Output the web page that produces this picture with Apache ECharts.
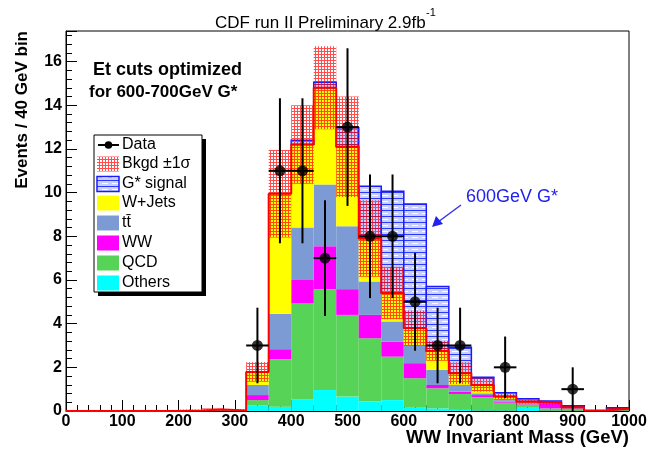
<!DOCTYPE html>
<html><head><meta charset="utf-8">
<script src="https://cdn.jsdelivr.net/npm/echarts@6/dist/echarts.min.js"></script>
<style>html,body{margin:0;padding:0;background:#fff}#c{width:652px;height:453px}</style>
</head><body><div id="c"></div>
<script>
// ---- data ----
const binWidth = 40;
const binStarts = [0,40,80,120,160,200,240,280,320,360,400,440,480,520,560,600,640,680,720,760,800,840,880,920,960];
const others = [0,0,0,0,0, 0,0,0, 0.25,0.2,0.53,0.96,0.66,0.43,0.5,0.15,0.12,0.05,0.03,0.03,0.15,0.02,0.01,0,0];
const qcd    = [0,0,0,0,0, 0.01,0.03,0.01, 0.25,2.17,4.41,4.62,3.74,2.9,1.99,1.35,0.92,0.73,0.6,0.35,0.15,0.1,0.06,0.02,0.04];
const ww     = [0,0,0,0,0, 0,0,0, 0.23,0.46,1.06,1.96,1.18,1.07,0.69,0.69,0.15,0.11,0.1,0.04,0.04,0.2,0.04,0,0.02];
const ttbar  = [0,0,0,0,0, 0,0.02,0, 0.46,1.62,2.4,2.83,2.88,1.53,0.92,0.84,0.69,0.3,0.08,0.08,0.04,0.03,0.03,0,0.02];
const wjets  = [0,0,0,0,0, 0.01,0.02,0.01, 0.6,5.5,3.8,4.43,3.64,1.97,1.3,0.77,0.87,0.54,0.38,0.16,0.06,0.03,0.03,0,0.02];
const bkgSigma = [0,0,0,0,0, 0.05,0.05,0.06, 0.45,2.0,1.8,1.9,2.3,1.75,1.2,0.8,0.45,0.5,0.3,0.15,0.1,0.08,0.05,0.03,0.04];
const signal = [0,0,0,0,0, 0,0,0, 0,0,0.2,0.25,0.87,2.39,4.66,5.68,2.95,1.19,0.36,0.18,0.12,0.08,0.07,0,0.05];
const dataX   = [340,380,420,460,500,540,580,620,660,700,780,900];
const dataY   = [3,11,11,7,13,8,8,5,3,3,2,1];
const dataErr = [1.73,3.32,3.32,2.65,3.61,2.83,2.83,2.24,1.73,1.73,1.41,1.0];
const legendNames = ['Data','Bkgd \u00b11\u03c3','G* signal','W+Jets','tt\u0304','WW','QCD','Others'];

// ---- patterns ----
function makeCanvas(w,h,draw){const c=document.createElement('canvas');c.width=w;c.height=h;draw(c.getContext('2d'));return c;}
const bandCanvas = makeCanvas(3,3,ctx=>{ctx.fillStyle='rgba(255,0,0,0.7)';ctx.fillRect(0,0,3,1);ctx.fillRect(0,1,1,2);});
const sigCanvas = makeCanvas(10,6,ctx=>{ctx.fillStyle='#c9d0ff';ctx.fillRect(0,0,10,6);ctx.fillStyle='#2a3aff';ctx.fillRect(0,0,10,1);ctx.fillStyle='#ffffff';ctx.fillRect(2,3,6,1);});
const bandPattern = {image: bandCanvas, repeat: 'repeat'};
const sigPattern = {image: sigCanvas, repeat: 'repeat'};

// ---- stacking ----
const comps = [
  {name:'Others', vals:others, color:'#00ffff'},
  {name:'QCD', vals:qcd, color:'#57d357'},
  {name:'WW', vals:ww, color:'#ff00ff'},
  {name:'ttbar', vals:ttbar, color:'#7c9bd5'},
  {name:'W+Jets', vals:wjets, color:'#ffff00'}
];
const cum = binStarts.map(()=>0);
const series = [];
function rectRender(styleFn){
  return function(params, api){
    const p0 = api.coord([api.value(0), api.value(3)]);
    const p1 = api.coord([api.value(1), api.value(2)]);
    return {type:'rect', shape:{x:p0[0], y:p0[1], width:p1[0]-p0[0], height:p1[1]-p0[1]}, style: styleFn()};
  };
}
comps.forEach((c,ci)=>{
  const data=[];
  binStarts.forEach((x,i)=>{const b=cum[i]; const t=b+c.vals[i]; if(c.vals[i]>0) data.push([x,x+binWidth,b,t]); cum[i]=t;});
  series.push({type:'custom', name:c.name, z:2+ci*0.01, data, encode:{x:[0,1],y:[2,3]}, clip:true,
    renderItem: rectRender(()=>({fill:c.color, stroke:null}))});
});
const total = cum.slice();
// signal on top of background
const sigData=[];
binStarts.forEach((x,i)=>{ if(signal[i]>0) sigData.push([x,x+binWidth,total[i],total[i]+signal[i]]); });
series.push({type:'custom', name:'G* signal', z:3, data:sigData, encode:{x:[0,1],y:[2,3]}, clip:true,
  renderItem: rectRender(()=>({fill:sigPattern, stroke:'#1a1aff', lineWidth:1.5}))});
// band
const bandData=[];
binStarts.forEach((x,i)=>{ if(bkgSigma[i]>0) bandData.push([x,x+binWidth,Math.max(0,total[i]-bkgSigma[i]),total[i]+bkgSigma[i]]); });
series.push({type:'custom', name:'Bkgd', z:4, data:bandData, encode:{x:[0,1],y:[2,3]}, clip:true,
  renderItem: rectRender(()=>({fill:bandPattern, stroke:null}))});
// total outline
const lineData = binStarts.map((x,i)=>[x,total[i]]);
lineData.push([1000,total[total.length-1]]);
series.push({type:'line', name:'total', z:5, data:lineData, step:'end', showSymbol:false, symbol:'none',
  lineStyle:{color:'#ff0000', width:2}, silent:true, animation:false});
// error bars
series.push({type:'custom', name:'err', z:6, data:dataX.map((x,i)=>[x,dataY[i],dataErr[i]]), encode:{x:0,y:1}, clip:true,
  renderItem:function(params, api){
    const x=api.value(0), y=api.value(1), e=api.value(2);
    const top=api.coord([x,y+e]), bot=api.coord([x,Math.max(0,y-e)]);
    const l=api.coord([x-binWidth/2,y]), r=api.coord([x+binWidth/2,y]);
    return {type:'group', children:[
      {type:'line', shape:{x1:top[0],y1:top[1],x2:bot[0],y2:bot[1]}, style:{stroke:'#000', lineWidth:2}},
      {type:'line', shape:{x1:l[0],y1:l[1],x2:r[0],y2:r[1]}, style:{stroke:'#000', lineWidth:2}}
    ]};
  }});
series.push({type:'scatter', name:'Data', z:7, data:dataX.map((x,i)=>[x,dataY[i]]), symbol:'circle', symbolSize:11,
  itemStyle:{color:'#000'}});

// ---- legend graphic ----
const LX=94, LY=135, LW=108, LH=157;
const rowY=[145,164,184,203,223,243,263,283];
const swatchFill=[null,bandPattern,sigPattern,'#ffff00','#7c9bd5','#ff00ff','#57d357','#00ffff'];
const font='Liberation Sans, Arial, sans-serif';
const g=[];
g.push({type:'rect', shape:{x:LX+4,y:LY+4,width:LW,height:LH}, style:{fill:'#000'}, z:10});
g.push({type:'rect', shape:{x:LX,y:LY,width:LW,height:LH}, style:{fill:'#fff', stroke:'#000', lineWidth:1}, z:11});
rowY.forEach((y,i)=>{
  if(i===0){
    g.push({type:'line', shape:{x1:98,y1:y,x2:119,y2:y}, style:{stroke:'#000',lineWidth:2}, z:12});
    g.push({type:'circle', shape:{cx:108.5,cy:y,r:3.8}, style:{fill:'#000'}, z:12});
  } else {
    const st = {fill:swatchFill[i]};
    if(i===2){st.stroke='#1a1aff'; st.lineWidth=1.5;}
    g.push({type:'rect', shape:{x:97,y:y-7.5,width:22,height:15}, style:st, z:12});
  }
  g.push({type:'text', x:122, y:y, style:{text:legendNames[i], font:'16px '+font, fill:'#000', verticalAlign:'middle', align:'left'}, z:12});
});
// texts
g.push({type:'text', x:215, y:23, style:{text:'CDF run II Preliminary 2.9fb', font:'17px '+font, fill:'#000', verticalAlign:'middle'}});
g.push({type:'text', x:426, y:13, style:{text:'-1', font:'11px '+font, fill:'#000', verticalAlign:'middle'}});
g.push({type:'text', x:93, y:70, style:{text:'Et cuts optimized', font:'bold 18px '+font, fill:'#000', verticalAlign:'middle'}});
g.push({type:'text', x:89, y:92, style:{text:'for 600-700GeV G*', font:'bold 17px '+font, fill:'#000', verticalAlign:'middle'}});
g.push({type:'text', x:466, y:197, style:{text:'600GeV G*', font:'18px '+font, fill:'#2222ee', verticalAlign:'middle'}});
g.push({type:'line', shape:{x1:461,y1:205,x2:438,y2:222}, style:{stroke:'#3333ee', lineWidth:1.5}});
g.push({type:'polygon', shape:{points:[[432,227],[436,216],[443,224]]}, style:{fill:'#2222ee'}});
g.push({type:'text', x:629, y:438, style:{text:'WW Invariant Mass (GeV)', font:'bold 18.5px '+font, fill:'#000', verticalAlign:'middle', align:'right'}});
g.push({type:'text', x:22, y:31, rotation:Math.PI/2, style:{text:'Events / 40 GeV bin', font:'bold 17px '+font, fill:'#000', verticalAlign:'middle', align:'right'}});

const axisCommon = {
  axisLine:{show:true, onZero:false, lineStyle:{color:'#000', width:1}},
  axisTick:{show:true, inside:true, length:11, lineStyle:{color:'#000', width:1}},
  minorTick:{show:true, splitNumber:5, length:6, lineStyle:{color:'#000', width:1}},
  splitLine:{show:false}, minorSplitLine:{show:false},
  axisLabel:{color:'#000', fontSize:16, fontWeight:'bold', fontFamily:font}
};
const chart = echarts.init(document.getElementById('c'), null, {renderer:'canvas'});
chart.setOption({
  animation:false,
  backgroundColor:'#fff',
  grid:{left:66, top:31, width:563, height:380, show:true, borderColor:'#000', borderWidth:1, backgroundColor:'transparent', outerBoundsMode:'none', containLabel:false},
  xAxis:Object.assign({type:'value', min:0, max:1000, interval:100}, axisCommon, {axisLabel:Object.assign({}, axisCommon.axisLabel, {margin:3, formatter:v=>String(v)})}),
  yAxis:Object.assign({type:'value', min:0, max:17.4, interval:2}, axisCommon, {axisLabel:Object.assign({}, axisCommon.axisLabel, {margin:4, showMaxLabel:false, formatter:v=>String(v)})}),
  series: series,
  graphic: g
});
</script></body></html>
